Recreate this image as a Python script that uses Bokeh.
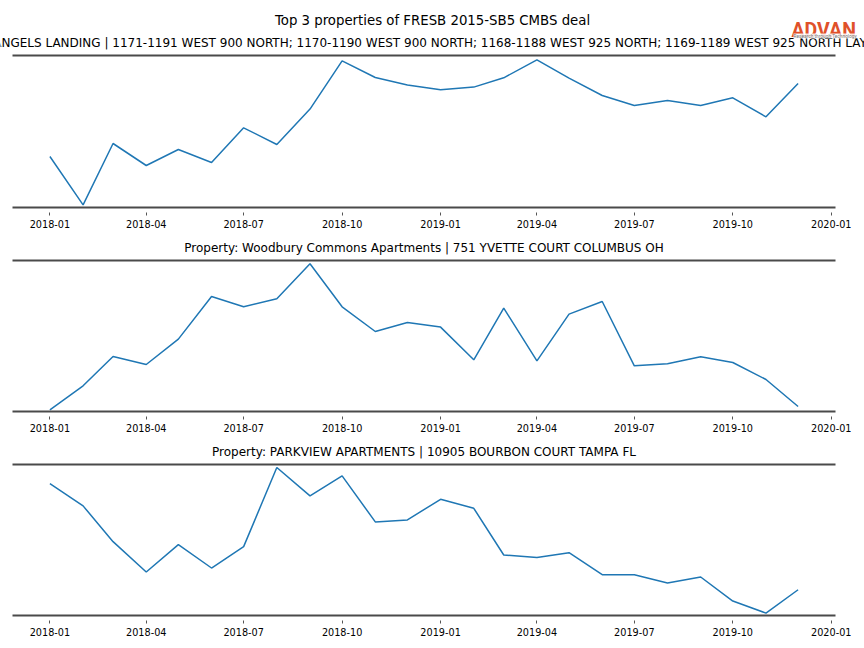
import pandas as pd
from bokeh.plotting import figure
from bokeh.models import (Range1d, FixedTicker, DatetimeTickFormatter, LinearAxis,
                          Title, ColumnDataSource)
from bokeh.layouts import column, row
from bokeh.embed import file_html
from bokeh.resources import INLINE
from bokeh.core.properties import value

# ---------------- data ----------------
MONTHS = ["2018-01", "2018-02", "2018-03", "2018-04", "2018-05", "2018-06",
          "2018-07", "2018-08", "2018-09", "2018-10", "2018-11", "2018-12",
          "2019-01", "2019-02", "2019-03", "2019-04", "2019-05", "2019-06",
          "2019-07", "2019-08", "2019-09", "2019-10", "2019-11", "2019-12"]

MAIN_TITLE = "Top 3 properties of FRESB 2015-SB5 CMBS deal"
PROPERTY_TITLES = [
    "Property: ANGELS LANDING | 1171-1191 WEST 900 NORTH; 1170-1190 WEST 900 NORTH; "
    "1168-1188 WEST 925 NORTH; 1169-1189 WEST 925 NORTH LAYTON UT",
    "Property: Woodbury Commons Apartments | 751 YVETTE COURT COLUMBUS OH",
    "Property: PARKVIEW APARTMENTS | 10905 BOURBON COURT TAMPA FL",
]

# relative activity (arbitrary units, no y axis shown)
SERIES_1 = [51.0, 2.7, 64.0, 42.0, 58.0, 45.0, 79.7, 63.0, 98.4, 146.7, 130.0, 122.4,
            117.7, 120.4, 129.7, 147.7, 129.4, 112.0, 102.0, 107.0, 102.0, 109.7, 90.7, 124.0]
SERIES_2 = [1.7, 25.7, 55.0, 47.0, 72.4, 115.0, 104.7, 112.7, 147.7, 104.7, 80.0, 89.0,
            84.4, 51.7, 103.4, 50.7, 97.4, 110.0, 45.7, 47.7, 54.7, 49.0, 32.0, 5.0]
SERIES_3 = [131.7, 109.4, 73.7, 43.4, 70.7, 47.4, 68.7, 147.7, 119.4, 139.4, 93.4, 95.4,
            116.0, 107.0, 60.4, 58.0, 62.7, 40.7, 40.7, 32.4, 38.4, 14.4, 2.4, 25.7]
Y_LIMITS = [152.0, 151.0, 150.7]

TICK_LABELS = ["2018-01", "2018-04", "2018-07", "2018-10", "2019-01",
               "2019-04", "2019-07", "2019-10", "2020-01"]

LOGO_TEXT = "ADVAN"
LOGO_TAGLINE = "Research through Technology"

# ---------------- styling ----------------
LINE_COLOR = "#1f77b4"
SPINE_COLOR = "#4a4a4a"
FONT = "DejaVu Sans"
W = 864
LEFT, RIGHT = 12, 29

dates = pd.to_datetime([m + "-01" for m in MONTHS])
pad = (dates.max() - dates.min()) * 0.05
X0 = (dates.min() - pad).to_pydatetime()
X1 = (dates.max() + pad).to_pydatetime()
tick_ms = [int(t.value // 10**6) for t in pd.to_datetime([t + "-01" for t in TICK_LABELS])]

fmt = "%Y-%m"

# ---------------- header (main title, first property title, logo) ----------------
HEADER_H = 51
hdr = figure(width=W, height=HEADER_H, x_range=Range1d(0, W), y_range=Range1d(HEADER_H, 0),
             output_backend="svg", toolbar_location=None,
             x_axis_location=None, y_axis_location=None,
             min_border_left=0, min_border_right=0, min_border_top=0, min_border_bottom=0,
             background_fill_color="white", border_fill_color="white",
             outline_line_color=None)
hdr.grid.visible = False
frame_center = LEFT + (W - LEFT - RIGHT) / 2
hdr.text(x=[W / 2], y=[20], text=[MAIN_TITLE], text_font=value(FONT),
         text_font_size="13.3px", text_color="#000000", text_align="center",
         text_baseline="alphabetic")
hdr.text(x=[frame_center], y=[42], text=[PROPERTY_TITLES[0]], text_font=value(FONT),
         text_font_size="12px", text_color="#000000", text_align="center",
         text_baseline="alphabetic")
hdr.text(x=[791], y=[29.5], text=[LOGO_TEXT], text_font=value("Roboto"),
         text_font_size="19.5px", text_font_style="bold", text_color="#e0512a",
         text_align="left", text_baseline="alphabetic")
hdr.text(x=[793], y=[35.5], text=[LOGO_TAGLINE], text_font=value("Roboto"),
         text_font_size="4.8px", text_color="#777777", text_align="left",
         text_baseline="alphabetic", background_fill_color="white",
         background_fill_alpha=0.85)


def make_panel(values, ylim, title, height, top, bottom, title_standoff):
    p = figure(width=W, height=height, x_axis_type="datetime",
               x_range=Range1d(X0, X1), y_range=Range1d(0, ylim),
               output_backend="svg", toolbar_location=None, y_axis_location=None,
               min_border_left=LEFT, min_border_right=RIGHT,
               min_border_top=top, min_border_bottom=bottom,
               background_fill_color="white", border_fill_color="white",
               outline_line_color=None)
    p.grid.visible = False
    src = ColumnDataSource(dict(date=dates, v=values))
    p.line(x="date", y="v", source=src, line_color=LINE_COLOR, line_width=1.5)

    ax = p.xaxis[0]
    ax.ticker = FixedTicker(ticks=tick_ms)
    ax.formatter = DatetimeTickFormatter(days=fmt, months=fmt, years=fmt, hours=fmt,
                                         hourmin=fmt, minutes=fmt, minsec=fmt, seconds=fmt,
                                         milliseconds=fmt, microseconds=fmt)
    ax.axis_line_color = SPINE_COLOR
    ax.axis_line_width = 2
    ax.major_tick_line_color = "#555555"
    ax.major_tick_line_width = 1
    ax.major_tick_in = -5
    ax.major_tick_out = 8
    ax.minor_tick_line_color = None
    ax.major_label_text_font = FONT
    ax.major_label_text_font_size = "9.7px"
    ax.major_label_text_color = "#000000"
    ax.major_label_standoff = 4

    top_ax = LinearAxis(ticker=FixedTicker(ticks=[]), axis_line_color=SPINE_COLOR,
                        axis_line_width=2, major_tick_line_color=None,
                        minor_tick_line_color=None, major_label_text_font_size="0px",
                        major_tick_in=0, major_tick_out=0)
    p.add_layout(top_ax, "above")
    if title:
        p.add_layout(Title(text=title, align="center", text_font=FONT, text_font_size="12px",
                           text_font_style="normal", text_color="#000000",
                           standoff=title_standoff), "above")
    return p


p1 = make_panel(SERIES_1, Y_LIMITS[0], None, 181, 4, 25, 0)
p2 = make_panel(SERIES_2, Y_LIMITS[1], PROPERTY_TITLES[1], 204, 28, 25, 12)
p3 = make_panel(SERIES_3, Y_LIMITS[2], PROPERTY_TITLES[2], 210, 28, 31, 12)

layout = column(row(hdr), p1, p2, p3, spacing=0)
open("out.html", "w").write(file_html(layout, INLINE))
